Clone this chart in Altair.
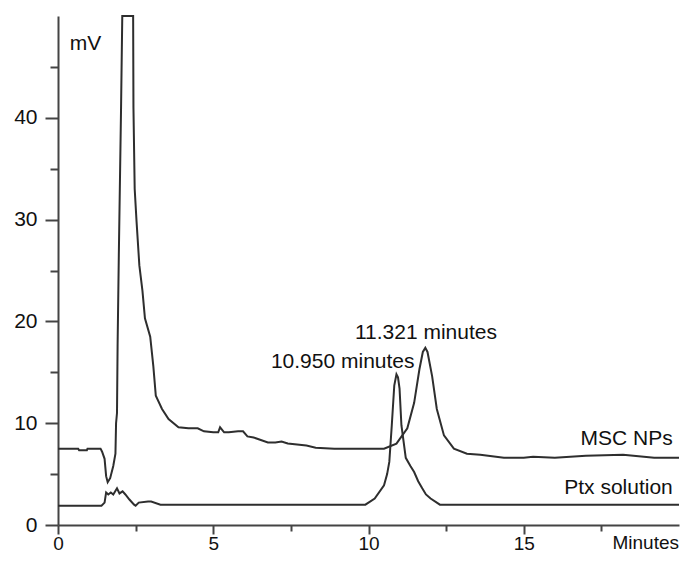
import altair as alt
import pandas as pd

# MSC NPs trace (minutes, mV)
msc_t = [0, 0.65, 0.68, 0.93, 0.95, 1.37, 1.42, 1.5, 1.55, 1.6, 1.68, 1.78, 1.85, 1.87,
         1.9, 1.92, 1.96, 2.03, 2.07, 2.42, 2.43, 2.47, 2.53, 2.62, 2.72, 2.8, 2.97,
         3.07, 3.15, 3.35, 3.56, 3.88, 4.2, 4.5, 4.7, 5.0, 5.16, 5.22, 5.35, 5.5, 5.8,
         5.96, 6.1, 6.3, 6.76, 7.0, 7.2, 7.4, 8.0, 8.3, 8.9, 9.5, 10.0, 10.5, 10.9,
         11.25, 11.47, 11.64, 11.75, 11.83, 11.9, 12.05, 12.2, 12.43, 12.75, 13.17,
         13.6, 14.36, 15.0, 15.3, 16.0, 17.0, 18.2, 19.2, 20.0]
msc_v = [7.5, 7.5, 7.35, 7.35, 7.5, 7.5, 7.2, 6.5, 4.8, 4.2, 4.6, 5.8, 7.0, 10.0,
         11.0, 17.8, 26.8, 40.8, 50.0, 50.0, 41.0, 33.0, 29.8, 25.5, 23.0, 20.3, 18.5,
         15.6, 12.7, 11.4, 10.4, 9.6, 9.5, 9.5, 9.2, 9.1, 9.1, 9.6, 9.1, 9.1, 9.2,
         9.2, 8.7, 8.6, 8.1, 8.1, 8.2, 8.0, 7.8, 7.6, 7.5, 7.5, 7.5, 7.5, 8.0,
         9.5, 12.0, 15.3, 17.0, 17.4, 17.0, 14.6, 11.4, 8.8, 7.5, 7.0,
         6.9, 6.6, 6.6, 6.7, 6.6, 6.8, 6.9, 6.6, 6.6]

# Ptx solution trace (minutes, mV)
ptx_t = [0, 1.4, 1.5, 1.55, 1.62, 1.7, 1.78, 1.9, 1.98, 2.08, 2.17, 2.3, 2.45, 2.5,
         2.6, 2.9, 3.0, 3.3, 9.9, 10.2, 10.5, 10.6, 10.67, 10.75, 10.83, 10.9, 10.95,
         11.0, 11.06, 11.2, 11.35, 11.47, 11.6, 11.73, 11.85, 12.0, 12.3, 20.0]
ptx_v = [1.9, 1.9, 2.2, 3.2, 3.0, 3.2, 3.0, 3.6, 3.1, 3.3, 3.0, 2.5, 2.0, 1.9,
         2.2, 2.3, 2.3, 2.0, 2.0, 2.6, 3.9, 5.0, 6.2, 9.8, 13.7, 14.8, 14.5,
         13.4, 9.8, 6.6, 5.8, 5.2, 4.3, 3.6, 3.0, 2.6, 2.0, 2.0]

# Annotations inside the plot
ann_text = ["mV", "11.321 minutes", "10.950 minutes", "MSC NPs", "Ptx solution"]
ann_x = [0.38, 11.85, 9.17, 19.8, 19.8]
ann_y = [47.25, 18.9, 16.0, 8.4, 3.65]
ann_align = ["left", "center", "center", "right", "right"]

# Axis unit label placed after the last x tick label
unit_text = ["Minutes"]
unit_x = [20.0]
unit_y = [-0.88]

df = pd.concat([
    pd.DataFrame({"t": msc_t, "v": msc_v, "series": "MSC NPs"}),
    pd.DataFrame({"t": ptx_t, "v": ptx_v, "series": "Ptx solution"}),
], ignore_index=True)
ann = pd.DataFrame({"text": ann_text, "x": ann_x, "y": ann_y, "align": ann_align})
unit = pd.DataFrame({"text": unit_text, "x": unit_x, "y": unit_y})

FONT = "Liberation Sans"
FS = 21
FSX = 19

xscale = alt.Scale(domain=[0, 20], nice=False, zero=False)
yscale = alt.Scale(domain=[0, 50], nice=False, zero=False)

xaxis = alt.Axis(
    values=[0, 2.5, 5, 7.5, 10, 12.5, 15, 17.5],
    labelExpr="datum.value % 5 === 0 ? datum.label : ''",
    tickSize={"condition": {"test": "datum.value % 5 === 0", "value": 9}, "value": 6},
    labelPadding=0, labelFlush=False, labelFontSize=FSX, title=None, grid=False,
)
yaxis = alt.Axis(
    values=[0, 5, 10, 15, 20, 25, 30, 35, 40, 45],
    labelExpr="datum.value % 10 === 0 ? datum.label : ''",
    tickSize={"condition": {"test": "datum.value % 10 === 0", "value": 13}, "value": 8},
    labelPadding=8, labelFlush=False, labelFontSize=FS, title=None, grid=False,
)

lines = alt.Chart(df).mark_line(strokeWidth=2, interpolate="linear").encode(
    x=alt.X("t:Q", scale=xscale, axis=xaxis),
    y=alt.Y("v:Q", scale=yscale, axis=yaxis),
    color=alt.Color("series:N", scale=alt.Scale(range=["#2e2e2e", "#2e2e2e"]), legend=None),
    detail="series:N",
)

def text_layer(al):
    return alt.Chart(ann).transform_filter(alt.datum.align == al).mark_text(
        align=al, baseline="middle", font=FONT, fontSize=FS, color="#111111"
    ).encode(
        x=alt.X("x:Q", scale=xscale),
        y=alt.Y("y:Q", scale=yscale),
        text="text:N",
    )

unit_layer = alt.Chart(unit).mark_text(
    align="right", baseline="top", font=FONT, fontSize=FSX, color="#111111"
).encode(
    x=alt.X("x:Q", scale=xscale),
    y=alt.Y("y:Q", scale=yscale),
    text="text:N",
)

chart = alt.layer(
    lines, text_layer("left"), text_layer("center"), text_layer("right"), unit_layer
).properties(
    width=621, height=509,
    autosize=alt.AutoSizeParams(type="none"),
    padding={"left": 50, "top": 8, "right": 1, "bottom": 29},
).configure_view(stroke=None).configure_axis(
    domainColor="#444444", domainWidth=2, tickColor="#444444", tickWidth=2,
    labelFont=FONT, labelColor="#111111",
)

chart.save("out.html", embed_options={"renderer": "svg", "actions": False})
